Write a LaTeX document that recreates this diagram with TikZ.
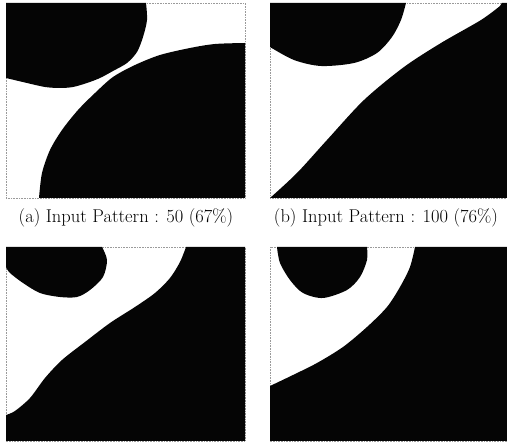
\documentclass[tikz,border=0pt]{standalone}
\usepackage{xcolor}
\usepackage{tikz}
\usetikzlibrary{positioning, calc}
\definecolor{framegray}{HTML}{9A9A9A}
\definecolor{inkblack}{HTML}{050505}

\tikzset{
  blob/.style={fill=inkblack, draw=none},
  frame/.style={draw=framegray, line width=0.6pt, densely dotted},
  caption/.style={anchor=base, inner sep=0pt, font=\fontsize{18.5}{22}\selectfont}
}

\begin{document}
\begin{tikzpicture}[x=1pt, y=-1pt]
    \useasboundingbox (0,0) rectangle (507,443);

    % frames
    \draw[frame] (6,3) rectangle (245,198);
    \draw[frame] (270,3) rectangle (507,198);
    \draw[frame] (6,247) rectangle (245,441);
    \draw[frame] (270,247) rectangle (507,441);

    % (a) input pattern 50
    \fill[blob] (6,3) -- (146,3) -- plot[smooth] coordinates {(146,3) (147,20) (143,37) (137,52) (127,63) (113,71) (100,78) (87,83) (73,87) (60,88) (45,87) (27,83) (6,78)} -- cycle;
    \fill[blob] (245,43) -- (245,198) -- (39,198) -- plot[smooth] coordinates {(39,198) (42,173) (50,150) (62,130) (78,110) (95,93) (113,77) (135,65) (160,55) (190,48) (215,44) (245,43)} -- cycle;

    % (b) input pattern 100
    \fill[blob] (270,3) -- (406,3) -- plot[smooth] coordinates {(406,3) (401,20) (392,37) (377,53) (354,63) (321,66) (294,60) (270,47)} -- cycle;
    \fill[blob] (507,3) -- (507,198) -- (270,198) -- plot[smooth] coordinates {(270,198) (297,173) (327,140) (364,100) (404,67) (441,43) (481,20) (500,6)} -- (502,3) -- cycle;

    % (c)
    \fill[blob] (6,247) -- (102,247) -- plot[smooth] coordinates {(102,247) (107,260) (103,277) (90,290) (77,297) (60,297) (40,293) (23,283) (10,273) (6,267)} -- cycle;
    \fill[blob] (186,247) -- (245,247) -- (245,441) -- (6,441) -- (6,415) -- plot[smooth] coordinates {(6,415) (15,411) (30,398) (45,378) (62,360) (85,342) (110,323) (135,307) (155,293) (170,278) (180,262) (186,247)} -- cycle;

    % (d)
    \fill[blob] (277,247) -- (367,247) -- plot[smooth] coordinates {(367,247) (367,260) (360,277) (347,290) (323,298) (303,293) (290,280) (280,263) (277,247)} -- cycle;
    \fill[blob] (415,247) -- (507,247) -- (507,441) -- (270,441) -- (270,386) -- plot[smooth] coordinates {(270,386) (293,375) (317,363) (343,347) (367,327) (387,307) (400,287) (410,267) (415,247)} -- cycle;

    % captions
    \node[caption] (capA) at (126,223) {(a) Input Pattern : 50 (67\%)};
    \node[caption] (capB) at (386,223) {(b) Input Pattern : 100 (76\%)};
\end{tikzpicture}
\end{document}
